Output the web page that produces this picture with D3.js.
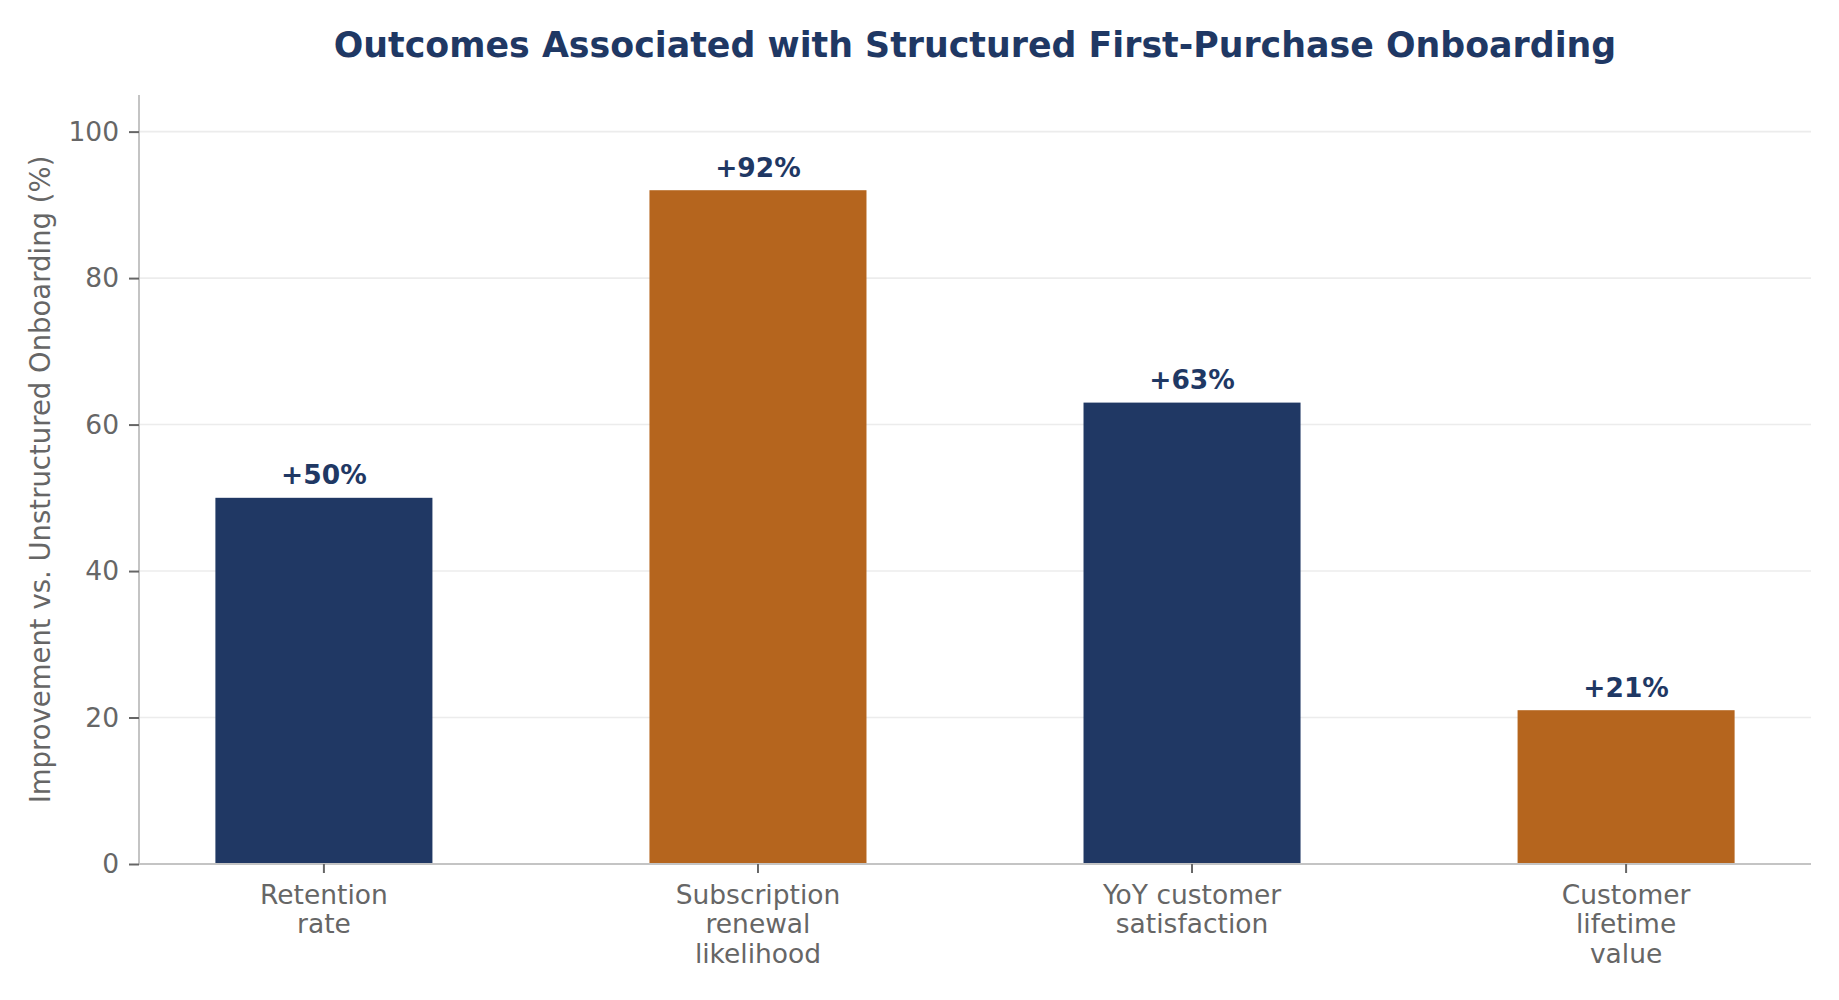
<!DOCTYPE html>
<html>
<head>
<meta charset="utf-8">
<script src="https://cdn.jsdelivr.net/npm/d3@7"></script>
<style>
    html, body { margin: 0; padding: 0; background: #fff; }
    svg { display: block; font-family: "DejaVu Sans", sans-serif; }
</style>
</head>
<body>
<div id="chart"></div>
<script>
// Chart data
const categories = [
    ["Retention", "rate"],
    ["Subscription", "renewal", "likelihood"],
    ["YoY customer", "satisfaction"],
    ["Customer", "lifetime", "value"]
];
const values = [50, 92, 63, 21];
const barColors = ["#203864", "#b5651e", "#203864", "#b5651e"];
const yTicks = [0, 20, 40, 60, 80, 100];

const width = 1839, height = 1000;
const margin = { top: 95, right: 28, bottom: 136, left: 139 };
const innerW = width - margin.left - margin.right;
const innerH = height - margin.top - margin.bottom;

const svg = d3.select("#chart")
    .append("svg")
    .attr("width", width)
    .attr("height", height);

const g = svg.append("g")
    .attr("transform", `translate(${margin.left},${margin.top})`);

// Scales
const x = d3.scaleBand()
    .domain(d3.range(values.length))
    .range([0, innerW])
    .paddingInner(0.5)
    .paddingOuter(0.176);

const y = d3.scaleLinear()
    .domain([0, 105])
    .range([innerH, 0]);

// Gridlines
g.selectAll("line.grid")
    .data(yTicks.filter(d => d > 0))
    .enter()
    .append("line")
    .attr("class", "grid")
    .attr("x1", 0)
    .attr("x2", innerW)
    .attr("y1", d => y(d))
    .attr("y2", d => y(d))
    .attr("stroke", "#ececec")
    .attr("stroke-width", 1.6);

// Bars
g.selectAll("rect.bar")
    .data(values)
    .enter()
    .append("rect")
    .attr("class", "bar")
    .attr("x", (d, i) => x(i))
    .attr("y", d => y(d))
    .attr("width", x.bandwidth())
    .attr("height", d => innerH - y(d))
    .attr("fill", (d, i) => barColors[i]);

// Value labels
g.selectAll("text.value")
    .data(values)
    .enter()
    .append("text")
    .attr("class", "value")
    .attr("x", (d, i) => x(i) + x.bandwidth() / 2)
    .attr("y", d => y(d) - 13.5)
    .attr("text-anchor", "middle")
    .attr("font-size", "26.5px")
    .attr("font-weight", "bold")
    .attr("fill", "#1f3864")
    .text(d => `+${d}%`);

// Y axis
const yAxis = g.append("g")
    .call(d3.axisLeft(y).tickValues(yTicks).tickSize(10).tickPadding(10));
yAxis.select(".domain").attr("stroke", "#c4c4c4").attr("stroke-width", 2)
    .attr("d", `M0,${innerH}V0`);
yAxis.selectAll(".tick line").attr("stroke", "#666").attr("stroke-width", 2);
yAxis.selectAll(".tick text")
    .attr("font-size", "26.5px")
    .attr("font-family", "DejaVu Sans")
    .attr("fill", "#666");

// X axis
const xAxis = g.append("g")
    .attr("transform", `translate(0,${innerH})`)
    .call(d3.axisBottom(x).tickSize(9).tickFormat(""));
xAxis.select(".domain").attr("stroke", "#c4c4c4").attr("stroke-width", 2)
    .attr("d", `M0,0H${innerW}`);
xAxis.selectAll(".tick line").attr("stroke", "#666").attr("stroke-width", 2);

// Multi-line category labels
xAxis.selectAll(".tick").each(function (d, i) {
    const t = d3.select(this).append("text")
        .attr("text-anchor", "middle")
        .attr("font-size", "26.5px")
        .attr("font-family", "DejaVu Sans")
        .attr("fill", "#666")
        .attr("y", 39.5);
    categories[i].forEach((line, k) => {
        t.append("tspan")
            .attr("x", 0)
            .attr("dy", k === 0 ? 0 : 29.7)
            .text(line);
    });
});

// Y axis title
svg.append("text")
    .attr("transform", `translate(50,${margin.top + innerH / 2}) rotate(-90)`)
    .attr("text-anchor", "middle")
    .attr("font-size", "27.5px")
    .attr("fill", "#666")
    .text("Improvement vs. Unstructured Onboarding (%)");

// Chart title
svg.append("text")
    .attr("x", margin.left + innerW / 2)
    .attr("y", 57)
    .attr("text-anchor", "middle")
    .attr("font-size", "34.8px")
    .attr("font-weight", "bold")
    .attr("fill", "#1f3864")
    .text("Outcomes Associated with Structured First-Purchase Onboarding");
</script>
</body>
</html>
